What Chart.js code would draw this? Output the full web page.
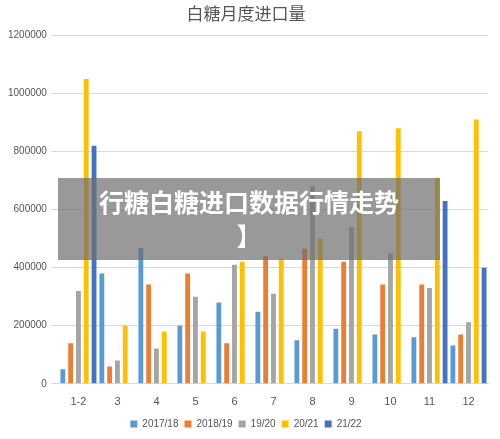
<!DOCTYPE html>
<html>
<head>
<meta charset="utf-8">
<script src="https://cdn.jsdelivr.net/npm/chart.js@4"></script>
<style>
  body { margin: 0; background: #fff; }
  #wrap { position: relative; width: 500px; height: 439px; }
  #banner {
    position: absolute; left: 58px; top: 178px; width: 382px; height: 82px;
    background: rgba(110, 110, 110, 0.7); color: #fff;
    font-family: "Noto Sans CJK SC", sans-serif; font-weight: bold; font-size: 25px;
    line-height: 34px; text-align: center; padding-top: 6px; box-sizing: border-box;
  }
</style>
</head>
<body>
<div id="wrap">
  <canvas id="sugarChart" width="500" height="439"></canvas>
  <div id="banner">行糖白糖进口数据行情走势<br>】</div>
</div>
<script>
const months = ['1-2', '3', '4', '5', '6', '7', '8', '9', '10', '11', '12'];
const s2017 = [50000, 380000, 468000, 200000, 280000, 248000, 150000, 190000, 170000, 160000, 132000];
const s2018 = [140000, 60000, 342000, 380000, 140000, 440000, 465000, 420000, 342000, 342000, 170000];
const s1920 = [320000, 80000, 122000, 300000, 410000, 310000, 680000, 540000, 450000, 330000, 212000];
const s2021 = [1050000, 200000, 180000, 180000, 420000, 432000, 500000, 870000, 880000, 710000, 910000];
const s2122 = [820000, null, null, null, null, null, null, null, null, 630000, 400000];

const ctx = document.getElementById('sugarChart').getContext('2d');
new Chart(ctx, {
    type: 'bar',
    data: {
        labels: months,
        datasets: [
            { label: '2017/18', data: s2017, backgroundColor: '#5b9bd5' },
            { label: '2018/19', data: s2018, backgroundColor: '#ed7d31' },
            { label: '19/20', data: s1920, backgroundColor: '#a5a5a5' },
            { label: '20/21', data: s2021, backgroundColor: '#ffc000' },
            { label: '21/22', data: s2122, backgroundColor: '#4472c4' }
        ]
    },
    options: {
        responsive: false,
        animation: false,
        layout: { padding: { left: 4, right: 12, top: 0, bottom: 0 } },
        datasets: { bar: { barPercentage: 0.62, categoryPercentage: 1.0 } },
        plugins: {
            title: {
                display: true,
                text: '白糖月度进口量',
                color: '#555',
                font: { family: 'Noto Sans CJK SC', size: 17, weight: 'normal' },
                padding: { top: 3, bottom: 12 }
            },
            legend: {
                position: 'bottom',
                labels: { boxWidth: 7, boxHeight: 7, color: '#555', font: { size: 10 }, padding: 6 }
            },
            tooltip: { enabled: false }
        },
        scales: {
            x: {
                grid: { display: false },
                border: { color: '#d9d9d9' },
                ticks: { color: '#555', font: { size: 11 }, padding: 4 }
            },
            y: {
                min: 0,
                max: 1200000,
                ticks: { stepSize: 200000, color: '#555', font: { size: 10 }, padding: 4, callback: v => String(v) },
                grid: { color: '#d9d9d9' },
                border: { display: false }
            }
        }
    }
});
</script>
</body>
</html>
